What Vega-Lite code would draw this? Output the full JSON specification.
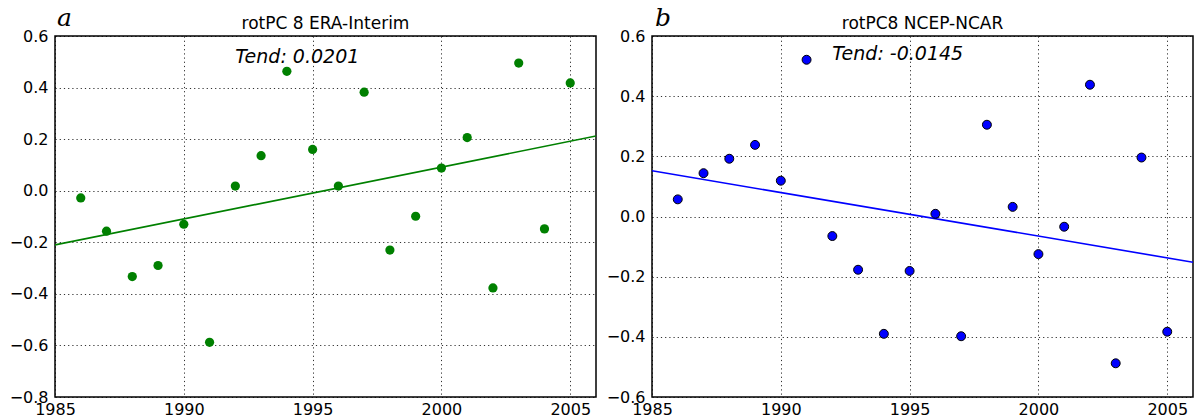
{
  "$schema": "https://vega.github.io/schema/vega-lite/v6.json",
  "padding": {"left": 8, "top": 5, "right": 0, "bottom": 0},
  "spacing": 8,
  "datasets": {
    "era": [
      {"year": 1986, "value": -0.028}, {"year": 1987, "value": -0.157}, {"year": 1988, "value": -0.333},
      {"year": 1989, "value": -0.290}, {"year": 1990, "value": -0.130}, {"year": 1991, "value": -0.588},
      {"year": 1992, "value": 0.018}, {"year": 1993, "value": 0.136}, {"year": 1994, "value": 0.463},
      {"year": 1995, "value": 0.160}, {"year": 1996, "value": 0.018}, {"year": 1997, "value": 0.382},
      {"year": 1998, "value": -0.230}, {"year": 1999, "value": -0.099}, {"year": 2000, "value": 0.088},
      {"year": 2001, "value": 0.206}, {"year": 2002, "value": -0.377}, {"year": 2003, "value": 0.495},
      {"year": 2004, "value": -0.148}, {"year": 2005, "value": 0.418}
    ],
    "ncep": [
      {"year": 1986, "value": 0.057}, {"year": 1987, "value": 0.144}, {"year": 1988, "value": 0.192},
      {"year": 1989, "value": 0.238}, {"year": 1990, "value": 0.119}, {"year": 1991, "value": 0.521},
      {"year": 1992, "value": -0.065}, {"year": 1993, "value": -0.177}, {"year": 1994, "value": -0.390},
      {"year": 1995, "value": -0.181}, {"year": 1996, "value": 0.009}, {"year": 1997, "value": -0.398},
      {"year": 1998, "value": 0.305}, {"year": 1999, "value": 0.032}, {"year": 2000, "value": -0.125},
      {"year": 2001, "value": -0.034}, {"year": 2002, "value": 0.438}, {"year": 2003, "value": -0.488},
      {"year": 2004, "value": 0.196}, {"year": 2005, "value": -0.383}
    ],
    "era_trend": [{"year": 1985, "value": -0.210}, {"year": 2006, "value": 0.212}],
    "ncep_trend": [{"year": 1985, "value": 0.152}, {"year": 2006, "value": -0.152}],
    "era_text": [
      {"year": 1992, "value": 0.495, "label": "Tend: 0.0201", "kind": "tend"},
      {"year": 1985, "value": 0.6, "label": "a", "kind": "panel"},
      {"year": 1995.5, "value": 0.6, "label": "rotPC 8 ERA-Interim", "kind": "title"}
    ],
    "ncep_text": [
      {"year": 1992, "value": 0.521, "label": "Tend: -0.0145", "kind": "tend"},
      {"year": 1985, "value": 0.6, "label": "b", "kind": "panel"},
      {"year": 1995.5, "value": 0.6, "label": "rotPC8 NCEP-NCAR", "kind": "title"}
    ]
  },
  "hconcat": [
    {
      "width": 541,
      "height": 361,
      "encoding": {
        "x": {"field": "year", "type": "quantitative", "scale": {"domain": [1985, 2006], "nice": false, "zero": false},
              "axis": {"values": [1985, 1990, 1995, 2000, 2005], "format": "d", "labelPadding": 4}},
        "y": {"field": "value", "type": "quantitative", "scale": {"domain": [-0.8, 0.6], "nice": false, "zero": false},
              "axis": {"values": [-0.8, -0.6, -0.4, -0.2, 0.0, 0.2, 0.4, 0.6], "format": ".1f"}}
      },
      "layer": [
        {"data": {"name": "era_trend"}, "mark": {"type": "line", "color": "#008000", "strokeWidth": 1.6, "clip": true}},
        {"data": {"name": "era"}, "mark": {"type": "circle", "color": "#008000", "opacity": 1, "size": 85}},
        {"data": {"name": "era_text"}, "transform": [{"filter": "datum.kind == 'tend'"}],
         "mark": {"type": "text", "align": "left", "baseline": "alphabetic", "fontStyle": "italic", "fontSize": 19, "font": "DejaVu Sans", "color": "black"},
         "encoding": {"text": {"field": "label"}}},
        {"data": {"name": "era_text"}, "transform": [{"filter": "datum.kind == 'title'"}],
         "mark": {"type": "text", "align": "center", "baseline": "alphabetic", "fontSize": 17, "font": "DejaVu Sans", "color": "black", "dy": -7},
         "encoding": {"text": {"field": "label"}}},
        {"data": {"name": "era_text"}, "transform": [{"filter": "datum.kind == 'panel'"}],
         "mark": {"type": "text", "align": "left", "baseline": "alphabetic", "fontStyle": "italic", "fontSize": 25, "font": "DejaVu Serif", "color": "black", "dx": 2, "dy": -10},
         "encoding": {"text": {"field": "label"}}}
      ]
    },
    {
      "width": 541,
      "height": 361,
      "encoding": {
        "x": {"field": "year", "type": "quantitative", "scale": {"domain": [1985, 2006], "nice": false, "zero": false},
              "axis": {"values": [1985, 1990, 1995, 2000, 2005], "format": "d", "labelPadding": 4}},
        "y": {"field": "value", "type": "quantitative", "scale": {"domain": [-0.6, 0.6], "nice": false, "zero": false},
              "axis": {"values": [-0.6, -0.4, -0.2, 0.0, 0.2, 0.4, 0.6], "format": ".1f"}}
      },
      "layer": [
        {"data": {"name": "ncep_trend"}, "mark": {"type": "line", "color": "#0000ff", "strokeWidth": 1.6, "clip": true}},
        {"data": {"name": "ncep"}, "mark": {"type": "point", "filled": true, "fill": "#0000ff", "stroke": "black", "strokeWidth": 1, "opacity": 1, "shape": "circle", "size": 80}},
        {"data": {"name": "ncep_text"}, "transform": [{"filter": "datum.kind == 'tend'"}],
         "mark": {"type": "text", "align": "left", "baseline": "alphabetic", "fontStyle": "italic", "fontSize": 19, "font": "DejaVu Sans", "color": "black"},
         "encoding": {"text": {"field": "label"}}},
        {"data": {"name": "ncep_text"}, "transform": [{"filter": "datum.kind == 'title'"}],
         "mark": {"type": "text", "align": "center", "baseline": "alphabetic", "fontSize": 17, "font": "DejaVu Sans", "color": "black", "dy": -7},
         "encoding": {"text": {"field": "label"}}},
        {"data": {"name": "ncep_text"}, "transform": [{"filter": "datum.kind == 'panel'"}],
         "mark": {"type": "text", "align": "left", "baseline": "alphabetic", "fontStyle": "italic", "fontSize": 25, "font": "DejaVu Serif", "color": "black", "dx": 3, "dy": -10},
         "encoding": {"text": {"field": "label"}}}
      ]
    }
  ],
  "config": {
    "font": "DejaVu Sans",
    "view": {"stroke": "black", "strokeWidth": 1.5},
    "axis": {
      "title": null,
      "grid": true,
      "gridColor": "black",
      "gridDash": [1.2, 3],
      "gridWidth": 0.9,
      "gridOpacity": 0.9,
      "domain": false,
      "ticks": false,
      "labelPadding": 7,
      "labelFont": "DejaVu Sans",
      "labelFontSize": 16,
      "labelColor": "black",
      "labelFlush": false,
      "labelOverlap": false
    }
  }
}
